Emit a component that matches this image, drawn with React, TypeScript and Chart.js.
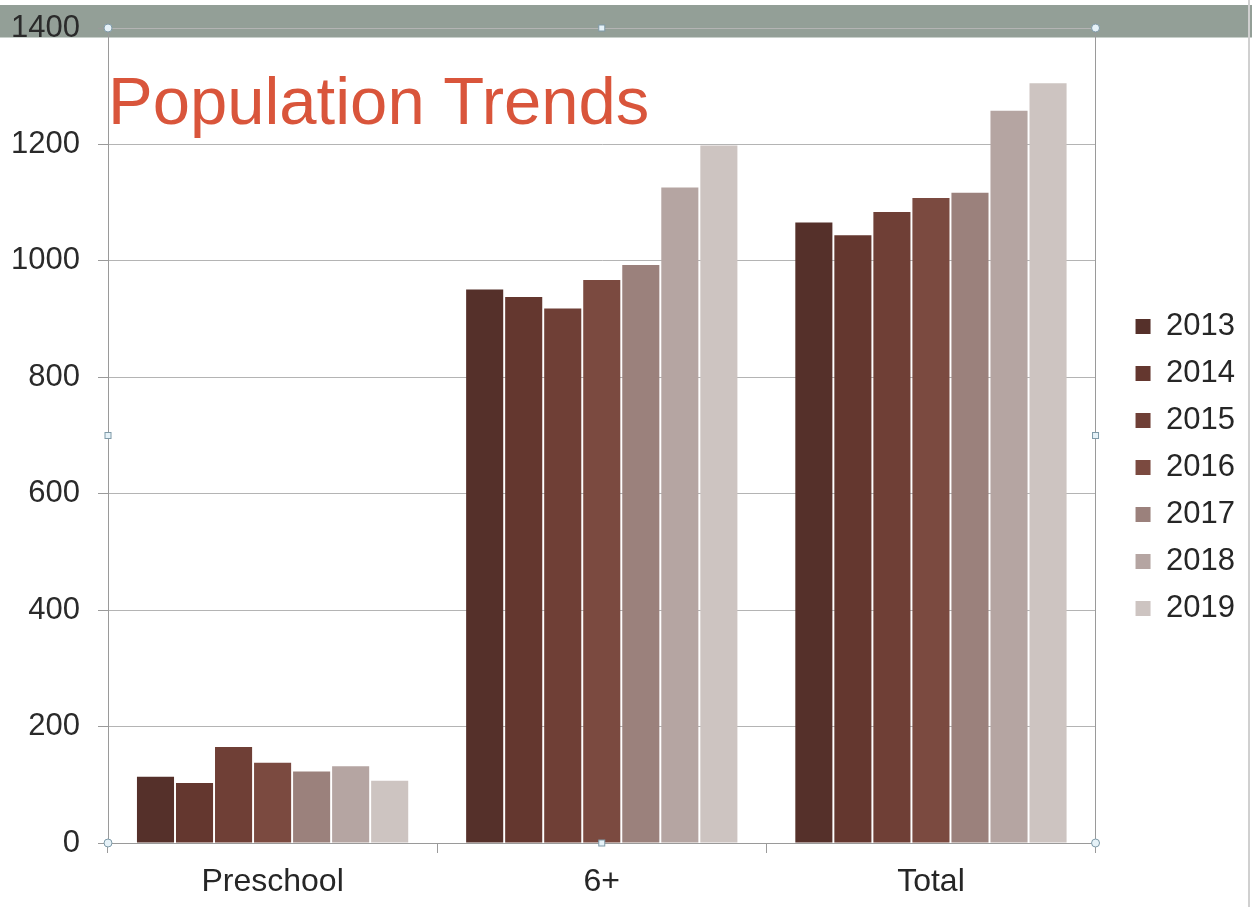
import React, { useEffect, useRef } from "react";
import { Chart, registerables } from "chart.js";

Chart.register(...registerables);

const categories = ["Preschool", "6+", "Total"];
const years = ["2013", "2014", "2015", "2016", "2017", "2018", "2019"];
const v2013 = [114, 951, 1066];
const v2014 = [103, 938, 1044];
const v2015 = [165, 918, 1084];
const v2016 = [138, 967, 1108];
const v2017 = [123, 993, 1117];
const v2018 = [132, 1126, 1258];
const v2019 = [107, 1198, 1305];
const seriesValues = [v2013, v2014, v2015, v2016, v2017, v2018, v2019];
const seriesColors = ["#55302a", "#64372f", "#6f3f36", "#7b4a40", "#9b817c", "#b5a5a2", "#cdc4c1"];
const yTicks = [0, 200, 400, 600, 800, 1000, 1200, 1400];
const titleText = "Population Trends";

const FONT = "'Liberation Sans', Arial, sans-serif";
const AXIS_GRAY = "#9a9a9a";

const decorPlugin = {
  id: "decor",
  afterDraw(chart: any) {
    const { ctx, chartArea } = chart;
    const { left, right, top, bottom } = chartArea;
    ctx.save();
    ctx.fillStyle = "#d9553b";
    ctx.font = `67px ${FONT}`;
    ctx.textBaseline = "alphabetic";
    ctx.textAlign = "left";
    ctx.fillText(titleText, left, 124);
    // selection handles
    const midX = (left + right) / 2;
    const midY = (top + bottom) / 2;
    ctx.strokeStyle = "#7f9aa8";
    ctx.fillStyle = "#e6f2f8";
    ctx.lineWidth = 1;
    [[left, top], [right, top], [left, bottom], [right, bottom]].forEach(([x, y]) => {
      ctx.beginPath();
      ctx.arc(x, y, 4, 0, Math.PI * 2);
      ctx.fill();
      ctx.stroke();
    });
    [[midX, top], [midX, bottom], [left, midY], [right, midY]].forEach(([x, y]) => {
      ctx.fillRect(x - 3, y - 3, 6, 6);
      ctx.strokeRect(x - 3, y - 3, 6, 6);
    });
    ctx.restore();
  },
};

export default function App() {
  const ref = useRef<HTMLCanvasElement | null>(null);

  useEffect(() => {
    if (!ref.current) return;
    const chart = new Chart(ref.current, {
      type: "bar",
      data: {
        labels: categories,
        datasets: years.map((y, i) => ({
          label: y,
          data: seriesValues[i],
          backgroundColor: seriesColors[i],
          borderWidth: 0,
          barPercentage: 0.95,
          categoryPercentage: 0.83,
        })),
      },
      options: {
        animation: false,
        responsive: false,
        maintainAspectRatio: false,
        layout: { padding: { left: 0, top: 28, right: 12, bottom: 0 } },
        plugins: {
          tooltip: { enabled: false },
          title: { display: false },
          legend: {
            display: true,
            position: "right",
            align: "center",
            labels: {
              boxWidth: 15,
              boxHeight: 15,
              padding: 16,
              color: "#262626",
              font: { family: FONT, size: 31 },
            },
          },
        },
        scales: {
          x: {
            type: "category",
            grid: {
              offset: true,
              drawOnChartArea: false,
              drawTicks: true,
              tickLength: 10,
              color: AXIS_GRAY,
            },
            border: { display: true, color: AXIS_GRAY, width: 1 },
            ticks: {
              color: "#262626",
              font: { family: FONT, size: 32 },
              padding: 10,
            },
            afterFit(scale: any) {
              scale.height = 64;
            },
          },
          y: {
            type: "linear",
            min: 0,
            max: 1400,
            afterBuildTicks(scale: any) {
              scale.ticks = yTicks.map((v) => ({ value: v }));
            },
            grid: {
              color: "#b4b4b4",
              lineWidth: 1,
              drawTicks: true,
              tickLength: 10,
              tickColor: AXIS_GRAY,
            },
            border: { display: true, color: AXIS_GRAY, width: 1 },
            ticks: {
              color: "#2a2a2a",
              font: { family: FONT, size: 31 },
              padding: 18,
              callback: (v: any) => String(v),
            },
            afterFit(scale: any) {
              scale.width = 108;
              scale.paddingTop = 0;
              scale.paddingBottom = 0;
            },
          },
          y2: {
            type: "linear",
            position: "right",
            min: 0,
            max: 1400,
            grid: { drawOnChartArea: false, drawTicks: false },
            border: { display: true, color: AXIS_GRAY, width: 1 },
            ticks: { display: false },
            afterFit(scale: any) {
              scale.width = 24;
              scale.paddingTop = 0;
              scale.paddingBottom = 0;
            },
          },
        },
      },
      plugins: [decorPlugin],
    });
    return () => chart.destroy();
  }, []);

  return (
    <div style={{ position: "fixed", left: 0, top: 0, width: 1257, height: 907, background: "#ffffff", overflow: "hidden" }}>
      <div style={{ position: "absolute", left: 0, top: 5, width: 1252, height: 32, background: "#939f97", borderBottom: "1px solid #c8d0cb" }} />
      <div style={{ position: "absolute", left: 1248, top: 0, width: 2, height: 907, background: "#d0d0d0" }} />
      <canvas ref={ref} width={1257} height={907} style={{ position: "absolute", left: 0, top: 0, width: 1257, height: 907 }} />
    </div>
  );
}
